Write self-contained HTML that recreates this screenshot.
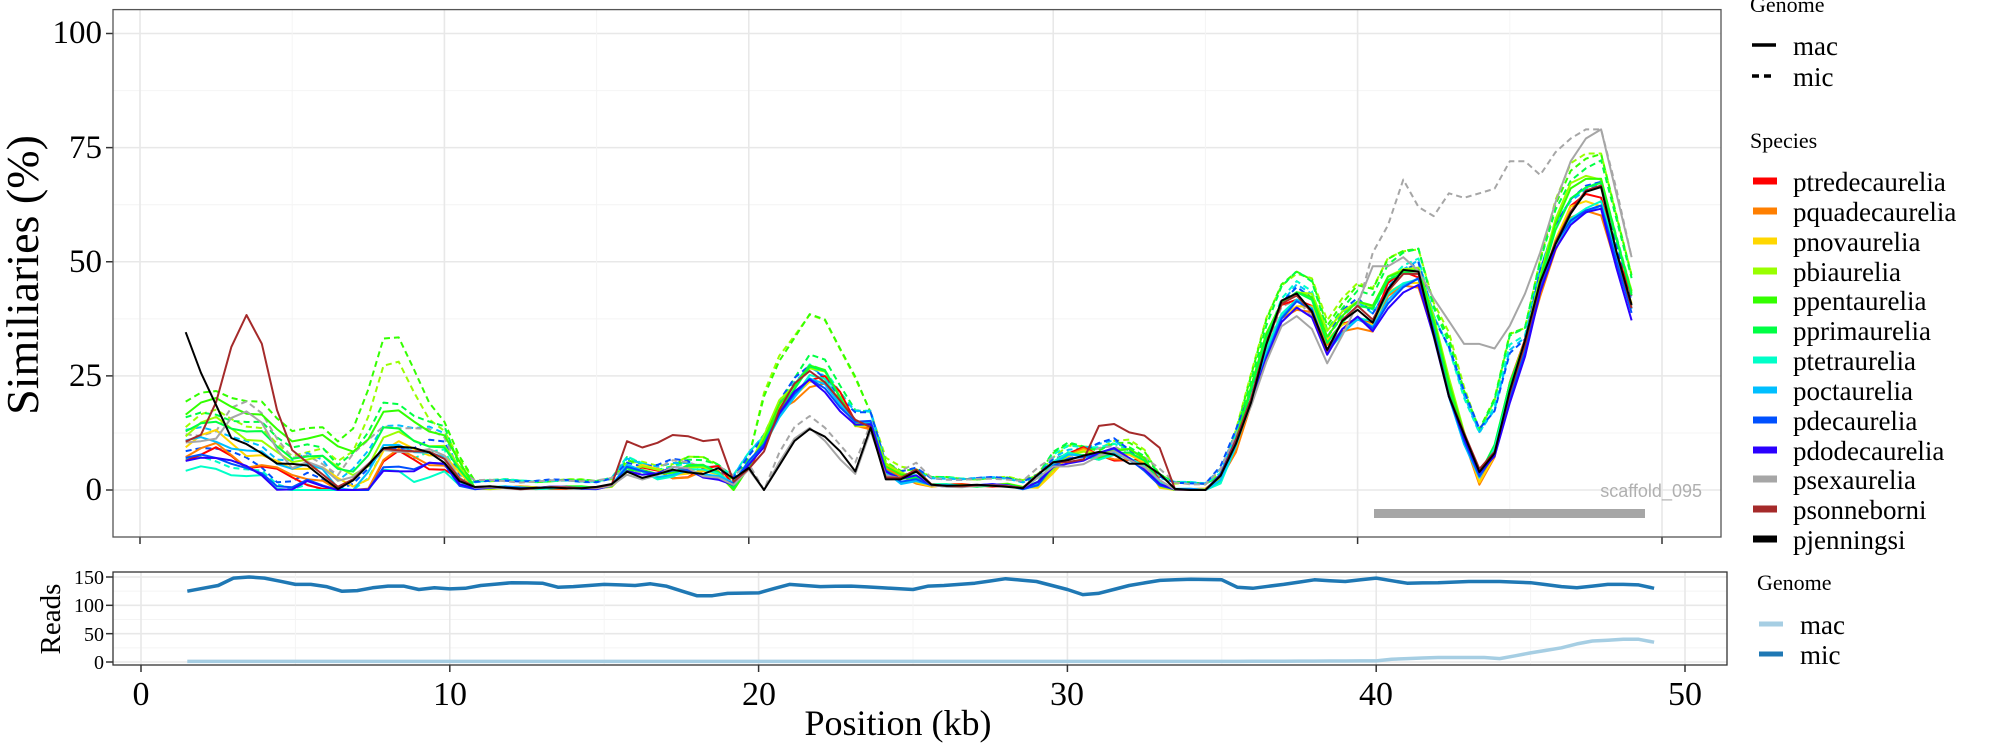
<!DOCTYPE html>
<html><head><meta charset="utf-8"><style>
html,body{margin:0;padding:0;background:#fff;width:2000px;height:750px;overflow:hidden}
svg{display:block}
.t{font-family:"Liberation Serif",serif;fill:#000}
</style></head><body>
<svg id="s" width="2000" height="750" viewBox="0 0 2000 750" xmlns="http://www.w3.org/2000/svg">
<rect width="2000" height="750" fill="#fff"/>
<g id="grid"></g>
<g id="lines" fill="none" stroke-linejoin="round"></g>
<rect x="1374" y="509" width="271" height="9" fill="#a6a6a6"/>
<text x="1702" y="497" text-anchor="end" font-family="Liberation Sans,sans-serif" font-size="18" fill="#b0b0b0">scaffold_095</text>
<rect x="113" y="9.6" width="1608" height="527.4" fill="none" stroke="#555" stroke-width="1.3"/>
<rect x="113" y="572" width="1614" height="93" fill="none" stroke="#333" stroke-width="1.3"/>
<g class="t" font-size="33" text-anchor="end">
<text x="102" y="43">100</text><text x="102" y="158">75</text><text x="102" y="272">50</text><text x="102" y="386">25</text><text x="102" y="500">0</text>
</g>
<g class="t" font-size="20" text-anchor="end">
<text x="104" y="584">150</text><text x="104" y="612">100</text><text x="104" y="641">50</text><text x="104" y="669">0</text>
</g>
<g class="t" font-size="34" text-anchor="middle">
<text x="141" y="705">0</text><text x="450" y="705">10</text><text x="759" y="705">20</text><text x="1067" y="705">30</text><text x="1376" y="705">40</text><text x="1685" y="705">50</text>
</g>
<text class="t" x="898" y="735" font-size="36" text-anchor="middle">Position (kb)</text>
<text class="t" font-size="46" text-anchor="middle" transform="translate(38,275) rotate(-90)">Similiaries (%)</text>
<text class="t" font-size="29" text-anchor="middle" transform="translate(60,619) rotate(-90)">Reads</text>
<g class="t" font-size="22"><text x="1750" y="12">Genome</text><text x="1750" y="148">Species</text><text x="1757" y="590">Genome</text></g>
<g stroke-width="3.5">
<line x1="1752" y1="45" x2="1776" y2="45" stroke="#000"/>
<line x1="1752" y1="76" x2="1776" y2="76" stroke="#000" stroke-dasharray="7,5"/>
</g>
<g class="t" font-size="27"><text x="1793" y="55">mac</text><text x="1793" y="86">mic</text>
<text x="1800" y="634">mac</text><text x="1800" y="664">mic</text></g>
<line x1="1759" y1="624" x2="1783" y2="624" stroke="#a6cee3" stroke-width="5"/>
<line x1="1759" y1="654" x2="1783" y2="654" stroke="#1f78b4" stroke-width="5"/>
<g id="leg"></g>
</svg>
<script>
const NS="http://www.w3.org/2000/svg";
function el(p,t,a,txt){const e=document.createElementNS(NS,t);for(const k in a)e.setAttribute(k,a[k]);if(txt)e.textContent=txt;p.appendChild(e);return e;}
const grid=document.getElementById('grid'),lines=document.getElementById('lines'),leg=document.getElementById('leg');
const MX=k=>140+30.44*k, MY=v=>490-4.565*v, BX=k=>141+30.88*k, BY=r=>662-0.5667*r;
for(let v=-12.5;v<=100;v+=12.5){const maj=v%25===0;if(MY(v)<10||MY(v)>536)continue;el(grid,'line',{x1:113,x2:1721,y1:MY(v),y2:MY(v),stroke:maj?'#e8e8e8':'#f4f4f4','stroke-width':maj?1.6:1});}
for(let k=0;k<=55;k+=5){const maj=k%10===0;if(MX(k)>1721)continue;el(grid,'line',{x1:MX(k),x2:MX(k),y1:10,y2:537,stroke:maj?'#e8e8e8':'#f4f4f4','stroke-width':maj?1.6:1});if(maj)el(grid,'line',{x1:MX(k),x2:MX(k),y1:537,y2:544,stroke:'#333','stroke-width':1.5});}
for(let r=0;r<=150;r+=25){const maj=r%50===0;el(grid,'line',{x1:113,x2:1727,y1:BY(r),y2:BY(r),stroke:maj?'#e8e8e8':'#f4f4f4','stroke-width':maj?1.6:1});if(maj)el(grid,'line',{x1:106,x2:113,y1:BY(r),y2:BY(r),stroke:'#333','stroke-width':1.5});}
for(let k=0;k<=50;k+=5){const maj=k%10===0;el(grid,'line',{x1:BX(k),x2:BX(k),y1:572,y2:665,stroke:maj?'#e8e8e8':'#f4f4f4','stroke-width':maj?1.6:1});if(maj)el(grid,'line',{x1:BX(k),x2:BX(k),y1:665,y2:672,stroke:'#333','stroke-width':1.5});}
for(let v=0;v<=100;v+=25)el(grid,'line',{x1:106,x2:113,y1:MY(v),y2:MY(v),stroke:'#333','stroke-width':1.5});
function interp(P,x){if(x<=P[0][0])return P[0][1];for(let i=1;i<P.length;i++){if(x<=P[i][0]){const a=P[i-1],b=P[i];return a[1]+(b[1]-a[1])*(x-a[0])/(b[0]-a[0]);}}return P[P.length-1][1];}
const B=[[1.5,10],[2,11],[2.5,12],[3,11],[3.5,9],[4,8],[4.5,6],[5,5],[5.5,5],[6,4],[6.5,1.5],[7,1.5],[7.5,4],[8,9],[8.5,10],[9,9],[9.5,8],[10,7],[10.5,3],[11,0.5],[15,0.5],[15.5,1],[16,4],[19,4],[19.4,0.3],[20,5],[20.5,10],[21,18],[21.5,22],[22,25],[22.5,24],[23,20],[23.5,15],[24,14],[24.5,4],[25,3],[25.5,3],[26,1],[28.5,1],[29,0.5],[29.5,2],[30,5],[30.5,7],[31,8],[32,8],[33,6],[33.5,2],[34,0],[35,0],[35.5,3],[36,10],[36.5,20],[37,32],[37.5,40],[38,42],[38.5,40],[39,32],[39.5,37],[40,39],[40.5,37],[41,44],[41.5,47],[42,47],[42.5,35],[43,22],[43.5,12],[44,3],[44.5,8],[45,22],[45.5,32],[46,45],[46.5,55],[47,62],[47.5,65],[48,65],[48.5,52],[49,41]];
const sp=[["ptredecaurelia","#ff0000"],["pquadecaurelia","#ff7f00"],["pnovaurelia","#ffd700"],["pbiaurelia","#99ff00"],["ppentaurelia","#33ff00"],["pprimaurelia","#00ff44"],["ptetraurelia","#00ffc8"],["poctaurelia","#00bfff"],["pdecaurelia","#0050ff"],["pdodecaurelia","#2a00ff"],["psexaurelia","#a6a6a6"],["psonneborni","#a52a2a"],["pjenningsi","#000000"]];
const sc=[0.0,-0.05,-0.02,0.06,0.05,0.03,-0.03,-0.04,-0.04,-0.06,-0.1,0.0,0.0];
const L=[-3,-2,0,2,7,3,-6,0,-4,-4,1,0,0];
function noise(i,x){return Math.sin(i*12.9+x*3.1)*1.0+Math.sin(i*5.3+x*1.7)*0.7;}
const GREY=[[41,49],[41.5,51],[42,48],[42.5,42],[43,37],[43.5,32],[44,32],[44.5,31],[45,36],[45.5,43],[46,52],[46.5,63],[47,72],[47.5,77],[48,79],[48.5,65],[49,51]];
const GREYD=[[40,45],[40.5,52],[41,58],[41.5,68],[42,62],[42.5,60],[43,65],[43.5,64],[44,65],[44.5,66],[45,72],[45.5,72],[46,69],[46.5,74],[47,77],[47.5,79],[48,79],[48.5,66],[49,51]];
function val(i,x,mic){let v=interp(B,x)*(1+sc[i]);if(x<11)v+=L[i]*Math.min(1,(11-x)/2);v+=noise(i+(mic?20:0),x)*(interp(B,x)>1?1:0.2);
 if(mic){v=v*1.05+1.5;if(x>6.5&&x<10.5)v+=(i==3||i==4)?14*Math.exp(-Math.pow(x-8.3,2)/1.2):3;if(x>20&&x<24&&(i==3||i==4))v+=8;if(x>42.5&&x<45.5)v+=8;}
 if(i==11&&!mic){v+=28*Math.exp(-Math.pow(x-3.6,2)/1.0);if(x>=16&&x<=19)v+=7;if(x>31&&x<34)v+=6;}
 if(i==12&&!mic){if(x<3)v+=24*(3-x)/1.5;if(x>20&&x<=23.5)v-=12;}
 if(i==10){if(x>2.5&&x<5)v+=7*Math.sin((x-2.5)/2.5*Math.PI);if(x>20&&x<=23.5)v-=10;if(x>=40.5){v=interp(mic?GREYD:GREY,x);} else if(x>=39.5&&!mic){v+= (x-39.5)*8;}}
 return Math.max(0,v);}
function path(f,X,Y){let d='';for(let x=1.5;x<=49.001;x+=0.5){d+=(d?'L':'M')+X(x).toFixed(1)+','+Y(f(x)).toFixed(1);}return d;}
const micIdx=[3,4,5,6,7,8,10];
for(const i of micIdx)el(lines,'path',{d:path(x=>val(i,x,true),MX,MY),stroke:sp[i][1],'stroke-width':2,'stroke-dasharray':'6,4'});
for(let i=0;i<13;i++)el(lines,'path',{d:path(x=>val(i,x,false),MX,MY),stroke:sp[i][1],'stroke-width':2});
const MIC=[[1.5,125],[2.5,135],[3,148],[3.5,150],[4,148],[5,137],[5.5,137],[6,133],[6.5,125],[7,126],[7.5,131],[8,134],[8.5,134],[9,128],[9.5,131],[10,129],[10.5,130],[11,135],[12,140],[13,139],[13.5,132],[14,133],[15,137],[16,135],[16.5,138],[17,134],[18,117],[18.5,117],[19,121],[20,122],[21,137],[22,133],[23,134],[24,131],[25,128],[25.5,134],[26,135],[27,139],[28,147],[29,142],[30,128],[30.5,119],[31,121],[32,135],[33,144],[34,146],[35,145],[35.5,132],[36,130],[37,137],[38,145],[39,142],[40,148],[41,139],[42,140],[43,142],[44,142],[45,140],[46,133],[46.5,131],[47,134],[47.5,137],[48,137],[48.5,136],[49,130]];
const MAC=[[1.5,1],[35,1],[40,2],[40.5,5],[42,8],[43.5,8],[44,6],[45,16],[46,25],[46.5,32],[47,37],[48,40],[48.5,40],[49,35]];
el(lines,'path',{d:path(x=>interp(MAC,x),BX,BY),stroke:'#a6cee3','stroke-width':3.5});
el(lines,'path',{d:path(x=>interp(MIC,x),BX,BY),stroke:'#1f78b4','stroke-width':3.5});
</script>
<svg style="position:absolute;left:0;top:0" width="2000" height="750">
<g font-family="Liberation Serif,serif" font-size="27">
<g stroke-width="7">
<line x1="1753" y1="181" x2="1777" y2="181" stroke="#ff0000"/><line x1="1753" y1="211" x2="1777" y2="211" stroke="#ff7f00"/><line x1="1753" y1="241" x2="1777" y2="241" stroke="#ffd700"/><line x1="1753" y1="271" x2="1777" y2="271" stroke="#99ff00"/><line x1="1753" y1="300" x2="1777" y2="300" stroke="#33ff00"/><line x1="1753" y1="330" x2="1777" y2="330" stroke="#00ff44"/><line x1="1753" y1="360" x2="1777" y2="360" stroke="#00ffc8"/><line x1="1753" y1="390" x2="1777" y2="390" stroke="#00bfff"/><line x1="1753" y1="420" x2="1777" y2="420" stroke="#0050ff"/><line x1="1753" y1="450" x2="1777" y2="450" stroke="#2a00ff"/><line x1="1753" y1="479" x2="1777" y2="479" stroke="#a6a6a6"/><line x1="1753" y1="509" x2="1777" y2="509" stroke="#a52a2a"/><line x1="1753" y1="539" x2="1777" y2="539" stroke="#000"/>
</g>
<text x="1793" y="191">ptredecaurelia</text><text x="1793" y="221">pquadecaurelia</text><text x="1793" y="251">pnovaurelia</text><text x="1793" y="281">pbiaurelia</text><text x="1793" y="310">ppentaurelia</text><text x="1793" y="340">pprimaurelia</text><text x="1793" y="370">ptetraurelia</text><text x="1793" y="400">poctaurelia</text><text x="1793" y="430">pdecaurelia</text><text x="1793" y="460">pdodecaurelia</text><text x="1793" y="489">psexaurelia</text><text x="1793" y="519">psonneborni</text><text x="1793" y="549">pjenningsi</text>
</g></svg>
</body></html>
